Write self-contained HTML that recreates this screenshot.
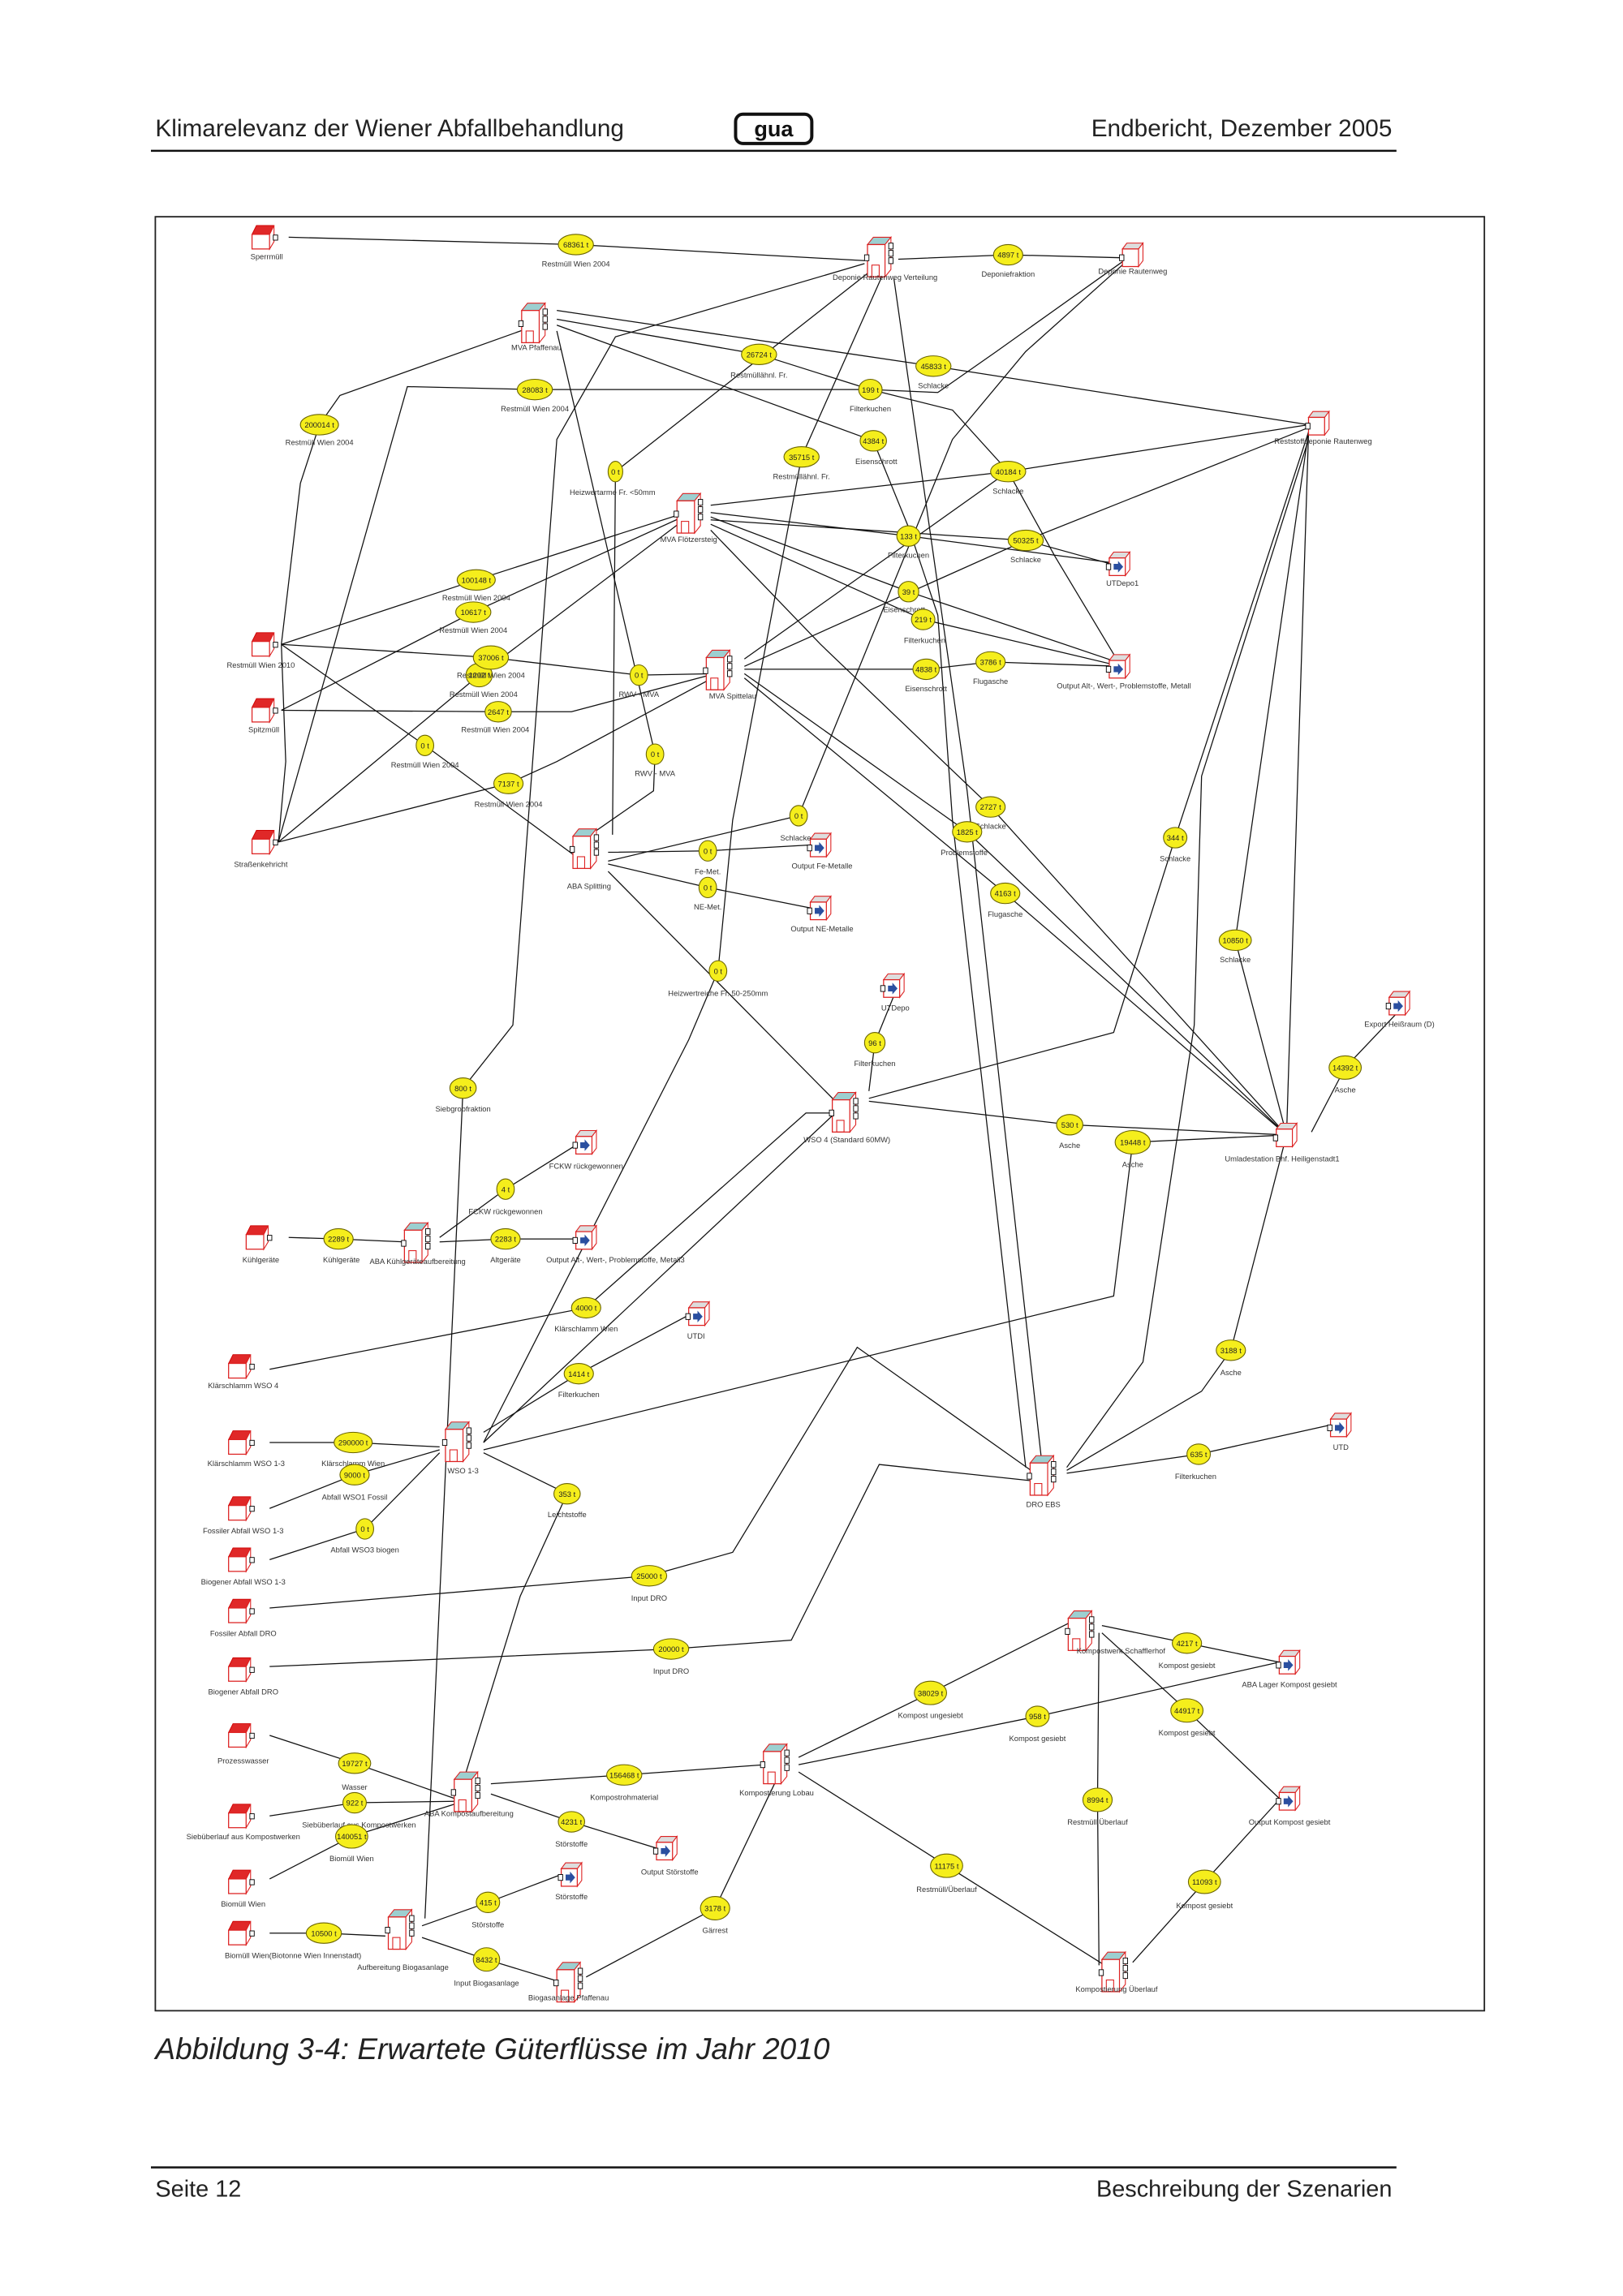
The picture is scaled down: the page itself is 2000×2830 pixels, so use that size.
<!DOCTYPE html>
<html><head><meta charset="utf-8"><style>
html,body{margin:0;padding:0;background:#fff;}
svg{display:block}
.t{font-family:"Liberation Sans",sans-serif;fill:#222}
.l{font-family:"Liberation Sans",sans-serif;font-size:5.2px;fill:#333;text-anchor:middle}
.v{font-family:"Liberation Sans",sans-serif;font-size:5.2px;fill:#222;text-anchor:middle}
.e{fill:#f5ee1c;stroke:#6a6400;stroke-width:.6}
.ln{fill:none;stroke:#111;stroke-width:.7}
</style></head><body>
<svg width="2000" height="2830" viewBox="0 0 1107.6 1567.8" preserveAspectRatio="none" xmlns="http://www.w3.org/2000/svg">
<defs>
<g id="src"><polygon points="0,6 3,0 15,0 12,6" fill="#e02828" stroke="#c00" stroke-width=".5"/><rect x="0" y="6" width="12" height="10" fill="#fff" stroke="#d22" stroke-width=".7"/><polygon points="12,6 15,0 15,11 12,16" fill="#fff" stroke="#d22" stroke-width=".6"/><rect x="14.5" y="6.5" width="3" height="3.5" fill="#fff" stroke="#000" stroke-width=".5"/></g>
<g id="proc"><polygon points="0,5 4,0 16,0 12,5" fill="#9ccfd0" stroke="#d22" stroke-width=".6"/><rect x="0" y="5" width="12" height="22" fill="#fff" stroke="#d22" stroke-width=".7"/><polygon points="12,5 16,0 16,22 12,27" fill="#fff" stroke="#d22" stroke-width=".6"/><rect x="3" y="19" width="5" height="8" fill="none" stroke="#d22" stroke-width=".6"/><rect x="-2" y="12" width="3" height="4" fill="#fff" stroke="#000" stroke-width=".5"/><rect x="14.5" y="4" width="3" height="4" fill="#fff" stroke="#000" stroke-width=".5"/><rect x="14.5" y="9" width="3" height="4" fill="#fff" stroke="#000" stroke-width=".5"/><rect x="14.5" y="14" width="3" height="4" fill="#fff" stroke="#000" stroke-width=".5"/></g>
<g id="sink"><polygon points="0,4 3,0 14,0 11,4" fill="#ddd" stroke="#d22" stroke-width=".6"/><rect x="0" y="4" width="11" height="12" fill="#fff" stroke="#d22" stroke-width=".7"/><polygon points="11,4 14,0 14,12 11,16" fill="#fff" stroke="#d22" stroke-width=".6"/><polygon points="3,8 6,8 6,6 9.5,10 6,14 6,12 3,12" fill="#2a4fa0"/><rect x="-2" y="8" width="3" height="4" fill="#fff" stroke="#000" stroke-width=".5"/></g>
<g id="sink2"><polygon points="0,4 3,0 14,0 11,4" fill="#ddd" stroke="#d22" stroke-width=".6"/><rect x="0" y="4" width="11" height="12" fill="#fff" stroke="#d22" stroke-width=".7"/><polygon points="11,4 14,0 14,12 11,16" fill="#fff" stroke="#d22" stroke-width=".6"/><rect x="-2" y="8" width="3" height="4" fill="#fff" stroke="#000" stroke-width=".5"/></g>
</defs>

<!-- header -->
<text class="t" x="106" y="93" font-size="16.5">Klimarelevanz der Wiener Abfallbehandlung</text>
<text class="t" x="950" y="93" font-size="16.5" text-anchor="end">Endbericht, Dezember 2005</text>
<rect x="502" y="78" width="52" height="20" rx="5" fill="#fff" stroke="#111" stroke-width="2.2"/>
<text x="528" y="93" font-family="Liberation Sans" font-weight="bold" font-size="15" text-anchor="middle" fill="#111">gua</text>
<line x1="103" y1="103" x2="953" y2="103" stroke="#111" stroke-width="1.4"/>

<!-- frame -->
<rect x="106" y="148" width="907" height="1225" fill="#fff" stroke="#222" stroke-width="1"/>

<!-- connectors -->
<g class="ln">
<polyline points="197,162 393,167 590,178"/>
<polyline points="613,177 688,174 765,176"/>
<polyline points="192,440 205,330 218,290 232,270 358,225"/>
<polyline points="190,575 278,264 365,266 594,266 640,268 680,240 767,178"/>
<polyline points="380,212 637,250 893,290"/>
<polyline points="380,218 518,242 594,266 650,280 688,322 720,380 765,455"/>
<polyline points="380,222 596,301 620,360 640,420 650,560 700,1002"/>
<polyline points="380,226 447,515 446,540 400,572"/>
<polyline points="604,184 547,312 500,560 490,663 470,710 330,985"/>
<polyline points="598,182 420,322 418,570"/>
<polyline points="610,190 660,540 712,1008"/>
<polyline points="590,180 420,230 380,300 350,700 316,743 290,1310"/>
<polyline points="192,440 325,396 468,350"/>
<polyline points="192,440 335,449 436,461 488,460"/>
<polyline points="192,440 290,509 400,590"/>
<polyline points="192,485 340,486 390,486 488,460"/>
<polyline points="192,485 323,418 468,352"/>
<polyline points="190,575 327,461 468,354"/>
<polyline points="190,575 347,535 380,520 488,462"/>
<polyline points="192,440 195,520 190,575"/>
<polyline points="485,345 688,322 893,290"/>
<polyline points="485,350 620,366 765,385"/>
<polyline points="485,355 700,369 765,387"/>
<polyline points="485,353 620,404 765,453"/>
<polyline points="485,358 630,423 765,455"/>
<polyline points="485,362 560,440 676,551 878,775"/>
<polyline points="508,450 688,322"/>
<polyline points="508,455 700,369 893,292"/>
<polyline points="508,457 632,457 676,452 765,455"/>
<polyline points="508,460 660,568 878,775"/>
<polyline points="508,463 686,610 878,775"/>
<polyline points="415,582 483,581 553,577"/>
<polyline points="415,590 483,606 553,620"/>
<polyline points="415,595 578,760"/>
<polyline points="415,588 545,557 650,300 700,240 767,180"/>
<polyline points="593,745 597,712 610,680"/>
<polyline points="593,752 730,768 878,775"/>
<polyline points="593,750 760,705 802,572 893,295"/>
<polyline points="878,775 843,642 893,295"/>
<polyline points="878,775 893,295"/>
<polyline points="878,775 773,780 760,885 330,990"/>
<polyline points="895,773 918,729 955,690"/>
<polyline points="878,775 840,922 820,950 728,1004"/>
<polyline points="728,1006 818,993 908,973"/>
<polyline points="728,1002 780,930 815,700 820,530 893,300"/>
<polyline points="197,845 231,846 276,848"/>
<polyline points="300,845 345,812 393,782"/>
<polyline points="300,848 345,846 393,846"/>
<polyline points="184,935 400,893 550,760 578,760"/>
<polyline points="330,978 395,938 470,898"/>
<polyline points="184,985 241,985 300,988"/>
<polyline points="184,1030 242,1007 300,990"/>
<polyline points="184,1065 249,1044 300,992"/>
<polyline points="330,985 570,760"/>
<polyline points="330,992 387,1020 355,1090 315,1220"/>
<polyline points="184,1098 443,1076 500,1060 585,920 712,1010"/>
<polyline points="184,1138 458,1126 540,1120 600,1000 712,1012"/>
<polyline points="184,1185 242,1204 310,1228"/>
<polyline points="184,1240 242,1231 310,1230"/>
<polyline points="184,1283 240,1254 310,1232"/>
<polyline points="335,1218 426,1212 522,1205"/>
<polyline points="335,1225 390,1244 448,1262"/>
<polyline points="545,1200 635,1156 730,1108"/>
<polyline points="545,1205 708,1172 873,1135"/>
<polyline points="545,1210 646,1274 754,1342"/>
<polyline points="752,1110 810,1122 873,1135"/>
<polyline points="752,1115 810,1168 873,1228"/>
<polyline points="750,1115 749,1229 750,1342"/>
<polyline points="872,1230 822,1285 773,1340"/>
<polyline points="184,1320 221,1320 263,1322"/>
<polyline points="288,1315 333,1299 383,1280"/>
<polyline points="288,1323 332,1338 378,1352"/>
<polyline points="400,1350 488,1303 530,1215"/>
</g>

<!-- sources -->
<use href="#src" x="172" y="154"/><text class="l" x="182" y="177">Sperrmüll</text>
<use href="#src" x="172" y="432"/><text class="l" x="178" y="456">Restmüll Wien 2010</text>
<use href="#src" x="172" y="477"/><text class="l" x="180" y="500">Spitzmüll</text>
<use href="#src" x="172" y="567"/><text class="l" x="178" y="592">Straßenkehricht</text>
<use href="#src" x="168" y="837"/><text class="l" x="178" y="862">Kühlgeräte</text>
<use href="#src" x="156" y="925"/><text class="l" x="166" y="948">Klärschlamm WSO 4</text>
<use href="#src" x="156" y="977"/><text class="l" x="168" y="1001">Klärschlamm WSO 1-3</text>
<use href="#src" x="156" y="1022"/><text class="l" x="166" y="1047">Fossiler Abfall WSO 1-3</text>
<use href="#src" x="156" y="1057"/><text class="l" x="166" y="1082">Biogener Abfall WSO 1-3</text>
<use href="#src" x="156" y="1092"/><text class="l" x="166" y="1117">Fossiler Abfall DRO</text>
<use href="#src" x="156" y="1132"/><text class="l" x="166" y="1157">Biogener Abfall DRO</text>
<use href="#src" x="156" y="1177"/><text class="l" x="166" y="1204">Prozesswasser</text>
<use href="#src" x="156" y="1232"/><text class="l" x="166" y="1256">Siebüberlauf aus Kompostwerken</text>
<use href="#src" x="156" y="1277"/><text class="l" x="166" y="1302">Biomüll Wien</text>
<use href="#src" x="156" y="1312"/><text class="l" x="200" y="1337">Biomüll Wien(Biotonne Wien Innenstadt)</text>

<!-- processes -->
<use href="#proc" x="592" y="162"/><text class="l" x="604" y="191">Deponie Rautenweg Verteilung</text>
<use href="#proc" x="356" y="207"/><text class="l" x="366" y="239">MVA Pfaffenau</text>
<use href="#proc" x="462" y="337"/><text class="l" x="470" y="370">MVA Flötzersteig</text>
<use href="#proc" x="482" y="444"/><text class="l" x="500" y="477">MVA Spittelau</text>
<use href="#proc" x="391" y="566"/><text class="l" x="402" y="607">ABA Splitting</text>
<use href="#proc" x="568" y="746"/><text class="l" x="578" y="780">WSO 4 (Standard 60MW)</text>
<use href="#proc" x="276" y="835"/><text class="l" x="285" y="863">ABA Kühlgeräteaufbereitung</text>
<use href="#proc" x="304" y="971"/><text class="l" x="316" y="1006">WSO 1-3</text>
<use href="#proc" x="703" y="994"/><text class="l" x="712" y="1029">DRO EBS</text>
<use href="#proc" x="729" y="1100"/><text class="l" x="765" y="1129">Kompostwerk Schafflerhof</text>
<use href="#proc" x="521" y="1191"/><text class="l" x="530" y="1226">Kompostierung Lobau</text>
<use href="#proc" x="310" y="1210"/><text class="l" x="320" y="1240">ABA Kompostaufbereitung</text>
<use href="#proc" x="265" y="1304"/><text class="l" x="275" y="1345">Aufbereitung Biogasanlage</text>
<use href="#proc" x="380" y="1340"/><text class="l" x="388" y="1366">Biogasanlage Pfaffenau</text>
<use href="#proc" x="752" y="1333"/><text class="l" x="762" y="1360">Kompostierung Überlauf</text>

<!-- sinks -->
<use href="#sink2" x="766" y="166"/><text class="l" x="773" y="187">Deponie Rautenweg</text>
<use href="#sink2" x="893" y="281"/><text class="l" x="903" y="303">Reststoffdeponie Rautenweg</text>
<use href="#sink" x="757" y="377"/><text class="l" x="766" y="400">UTDepo1</text>
<use href="#sink" x="757" y="447"/><text class="l" x="767" y="470">Output Alt-, Wert-, Problemstoffe, Metall</text>
<use href="#sink" x="553" y="569"/><text class="l" x="561" y="593">Output Fe-Metalle</text>
<use href="#sink" x="553" y="612"/><text class="l" x="561" y="636">Output NE-Metalle</text>
<use href="#sink" x="603" y="665"/><text class="l" x="611" y="690">UTDepo</text>
<use href="#sink" x="948" y="677"/><text class="l" x="955" y="701">Export Heißraum (D)</text>
<use href="#sink2" x="871" y="767"/><text class="l" x="875" y="793">Umladestation Bhf. Heiligenstadt1</text>
<use href="#sink" x="393" y="772"/><text class="l" x="400" y="798">FCKW rückgewonnen</text>
<use href="#sink" x="393" y="837"/><text class="l" x="420" y="862">Output Alt-, Wert-, Problemstoffe, Metall3</text>
<use href="#sink" x="470" y="889"/><text class="l" x="475" y="914">UTDI</text>
<use href="#sink" x="908" y="965"/><text class="l" x="915" y="990">UTD</text>
<use href="#sink" x="873" y="1127"/><text class="l" x="880" y="1152">ABA Lager Kompost gesiebt</text>
<use href="#sink" x="873" y="1220"/><text class="l" x="880" y="1246">Output Kompost gesiebt</text>
<use href="#sink" x="448" y="1254"/><text class="l" x="457" y="1280">Output Störstoffe</text>
<use href="#sink" x="383" y="1272"/><text class="l" x="390" y="1297">Störstoffe</text>

<!-- flows -->
<g>
<ellipse class="e" cx="393" cy="167" rx="12" ry="7"/><text class="v" x="393" y="169">68361 t</text><text class="l" x="393" y="182">Restmüll Wien 2004</text>
<ellipse class="e" cx="688" cy="174" rx="10" ry="7"/><text class="v" x="688" y="176">4897 t</text><text class="l" x="688" y="189">Deponiefraktion</text>
<ellipse class="e" cx="518" cy="242" rx="12" ry="7"/><text class="v" x="518" y="244">26724 t</text><text class="l" x="518" y="258">Restmüllähnl. Fr.</text>
<ellipse class="e" cx="637" cy="250" rx="12" ry="7"/><text class="v" x="637" y="252">45833 t</text><text class="l" x="637" y="265">Schlacke</text>
<ellipse class="e" cx="365" cy="266" rx="12" ry="7"/><text class="v" x="365" y="268">28083 t</text><text class="l" x="365" y="281">Restmüll Wien 2004</text>
<ellipse class="e" cx="594" cy="266" rx="8" ry="7"/><text class="v" x="594" y="268">199 t</text><text class="l" x="594" y="281">Filterkuchen</text>
<ellipse class="e" cx="218" cy="290" rx="13" ry="7"/><text class="v" x="218" y="292">200014 t</text><text class="l" x="218" y="304">Restmüll Wien 2004</text>
<ellipse class="e" cx="596" cy="301" rx="9" ry="7"/><text class="v" x="596" y="303">4384 t</text><text class="l" x="598" y="317">Eisenschrott</text>
<ellipse class="e" cx="547" cy="312" rx="12" ry="7"/><text class="v" x="547" y="314">35715 t</text><text class="l" x="547" y="327">Restmüllähnl. Fr.</text>
<ellipse class="e" cx="688" cy="322" rx="12" ry="7"/><text class="v" x="688" y="324">40184 t</text><text class="l" x="688" y="337">Schlacke</text>
<ellipse class="e" cx="420" cy="322" rx="5" ry="7"/><text class="v" x="420" y="324">0 t</text><text class="l" x="418" y="338">Heizwertarme Fr. &lt;50mm</text>
<ellipse class="e" cx="620" cy="366" rx="8" ry="7"/><text class="v" x="620" y="368">133 t</text><text class="l" x="620" y="381">Filterkuchen</text>
<ellipse class="e" cx="700" cy="369" rx="12" ry="7"/><text class="v" x="700" y="371">50325 t</text><text class="l" x="700" y="384">Schlacke</text>
<ellipse class="e" cx="325" cy="396" rx="13" ry="7"/><text class="v" x="325" y="398">100148 t</text><text class="l" x="325" y="410">Restmüll Wien 2004</text>
<ellipse class="e" cx="323" cy="418" rx="12" ry="7"/><text class="v" x="323" y="420">10617 t</text><text class="l" x="323" y="432">Restmüll Wien 2004</text>
<ellipse class="e" cx="620" cy="404" rx="7" ry="7"/><text class="v" x="620" y="406">39 t</text><text class="l" x="617" y="418">Eisenschrott</text>
<ellipse class="e" cx="630" cy="423" rx="8" ry="7"/><text class="v" x="630" y="425">219 t</text><text class="l" x="631" y="439">Filterkuchen</text>
<ellipse class="e" cx="327" cy="461" rx="9" ry="8"/><text class="v" x="327" y="463">1202 t</text>
<ellipse class="e" cx="335" cy="449" rx="12" ry="8"/><text class="v" x="335" y="451">37006 t</text><text class="l" x="335" y="463">Restmüll Wien 2004</text><text class="l" x="330" y="476">Restmüll Wien 2004</text>
<ellipse class="e" cx="436" cy="461" rx="6" ry="7"/><text class="v" x="436" y="463">0 t</text><text class="l" x="436" y="476">RWV - MVA</text>
<ellipse class="e" cx="340" cy="486" rx="9" ry="7"/><text class="v" x="340" y="488">2647 t</text><text class="l" x="338" y="500">Restmüll Wien 2004</text>
<ellipse class="e" cx="290" cy="509" rx="6" ry="7"/><text class="v" x="290" y="511">0 t</text><text class="l" x="290" y="524">Restmüll Wien 2004</text>
<ellipse class="e" cx="447" cy="515" rx="6" ry="7"/><text class="v" x="447" y="517">0 t</text><text class="l" x="447" y="530">RWV - MVA</text>
<ellipse class="e" cx="632" cy="457" rx="9" ry="7"/><text class="v" x="632" y="459">4838 t</text><text class="l" x="632" y="472">Eisenschrott</text>
<ellipse class="e" cx="676" cy="452" rx="10" ry="7"/><text class="v" x="676" y="454">3786 t</text><text class="l" x="676" y="467">Flugasche</text>
<ellipse class="e" cx="347" cy="535" rx="10" ry="7"/><text class="v" x="347" y="537">7137 t</text><text class="l" x="347" y="551">Restmüll Wien 2004</text>
<ellipse class="e" cx="545" cy="557" rx="6" ry="7"/><text class="v" x="545" y="559">0 t</text><text class="l" x="543" y="574">Schlacke</text>
<ellipse class="e" cx="676" cy="551" rx="10" ry="7"/><text class="v" x="676" y="553">2727 t</text><text class="l" x="676" y="566">Schlacke</text>
<ellipse class="e" cx="660" cy="568" rx="10" ry="7"/><text class="v" x="660" y="570">1825 t</text><text class="l" x="658" y="584">Problemstoffe</text>
<ellipse class="e" cx="483" cy="581" rx="6" ry="7"/><text class="v" x="483" y="583">0 t</text><text class="l" x="483" y="597">Fe-Met.</text>
<ellipse class="e" cx="483" cy="606" rx="6" ry="7"/><text class="v" x="483" y="608">0 t</text><text class="l" x="483" y="621">NE-Met.</text>
<ellipse class="e" cx="686" cy="610" rx="10" ry="7"/><text class="v" x="686" y="612">4163 t</text><text class="l" x="686" y="626">Flugasche</text>
<ellipse class="e" cx="802" cy="572" rx="8" ry="7"/><text class="v" x="802" y="574">344 t</text><text class="l" x="802" y="588">Schlacke</text>
<ellipse class="e" cx="843" cy="642" rx="11" ry="7"/><text class="v" x="843" y="644">10850 t</text><text class="l" x="843" y="657">Schlacke</text>
<ellipse class="e" cx="490" cy="663" rx="6" ry="7"/><text class="v" x="490" y="665">0 t</text><text class="l" x="490" y="680">Heizwertreiche Fr. 50-250mm</text>
<ellipse class="e" cx="597" cy="712" rx="7" ry="7"/><text class="v" x="597" y="714">96 t</text><text class="l" x="597" y="728">Filterkuchen</text>
<ellipse class="e" cx="918" cy="729" rx="11" ry="8"/><text class="v" x="918" y="731">14392 t</text><text class="l" x="918" y="746">Asche</text>
<ellipse class="e" cx="316" cy="743" rx="9" ry="7"/><text class="v" x="316" y="745">800 t</text><text class="l" x="316" y="759">Siebgrobfraktion</text>
<ellipse class="e" cx="730" cy="768" rx="9" ry="7"/><text class="v" x="730" y="770">530 t</text><text class="l" x="730" y="784">Asche</text>
<ellipse class="e" cx="773" cy="780" rx="12" ry="8"/><text class="v" x="773" y="782">19448 t</text><text class="l" x="773" y="797">Asche</text>
<ellipse class="e" cx="345" cy="812" rx="6" ry="7"/><text class="v" x="345" y="814">4 t</text><text class="l" x="345" y="829">FCKW rückgewonnen</text>
<ellipse class="e" cx="231" cy="846" rx="10" ry="7"/><text class="v" x="231" y="848">2289 t</text><text class="l" x="233" y="862">Kühlgeräte</text>
<ellipse class="e" cx="345" cy="846" rx="10" ry="7"/><text class="v" x="345" y="848">2283 t</text><text class="l" x="345" y="862">Altgeräte</text>
<ellipse class="e" cx="400" cy="893" rx="10" ry="7"/><text class="v" x="400" y="895">4000 t</text><text class="l" x="400" y="909">Klärschlamm Wien</text>
<ellipse class="e" cx="395" cy="938" rx="10" ry="7"/><text class="v" x="395" y="940">1414 t</text><text class="l" x="395" y="954">Filterkuchen</text>
<ellipse class="e" cx="840" cy="922" rx="10" ry="7"/><text class="v" x="840" y="924">3188 t</text><text class="l" x="840" y="939">Asche</text>
<ellipse class="e" cx="241" cy="985" rx="13" ry="7"/><text class="v" x="241" y="987">290000 t</text><text class="l" x="241" y="1001">Klärschlamm Wien</text>
<ellipse class="e" cx="242" cy="1007" rx="10" ry="7"/><text class="v" x="242" y="1009">9000 t</text><text class="l" x="242" y="1024">Abfall WSO1 Fossil</text>
<ellipse class="e" cx="249" cy="1044" rx="6" ry="7"/><text class="v" x="249" y="1046">0 t</text><text class="l" x="249" y="1060">Abfall WSO3 biogen</text>
<ellipse class="e" cx="387" cy="1020" rx="9" ry="7"/><text class="v" x="387" y="1022">353 t</text><text class="l" x="387" y="1036">Leichtstoffe</text>
<ellipse class="e" cx="818" cy="993" rx="8" ry="7"/><text class="v" x="818" y="995">635 t</text><text class="l" x="816" y="1010">Filterkuchen</text>
<ellipse class="e" cx="443" cy="1076" rx="12" ry="7"/><text class="v" x="443" y="1078">25000 t</text><text class="l" x="443" y="1093">Input DRO</text>
<ellipse class="e" cx="458" cy="1126" rx="12" ry="7"/><text class="v" x="458" y="1128">20000 t</text><text class="l" x="458" y="1143">Input DRO</text>
<ellipse class="e" cx="810" cy="1122" rx="10" ry="7"/><text class="v" x="810" y="1124">4217 t</text><text class="l" x="810" y="1139">Kompost gesiebt</text>
<ellipse class="e" cx="635" cy="1156" rx="11" ry="8"/><text class="v" x="635" y="1158">38029 t</text><text class="l" x="635" y="1173">Kompost ungesiebt</text>
<ellipse class="e" cx="708" cy="1172" rx="8" ry="7"/><text class="v" x="708" y="1174">958 t</text><text class="l" x="708" y="1189">Kompost gesiebt</text>
<ellipse class="e" cx="810" cy="1168" rx="11" ry="8"/><text class="v" x="810" y="1170">44917 t</text><text class="l" x="810" y="1185">Kompost gesiebt</text>
<ellipse class="e" cx="242" cy="1204" rx="11" ry="7"/><text class="v" x="242" y="1206">19727 t</text><text class="l" x="242" y="1222">Wasser</text>
<ellipse class="e" cx="242" cy="1231" rx="8" ry="7"/><text class="v" x="242" y="1233">922 t</text><text class="l" x="245" y="1248">Siebüberlauf aus Kompostwerken</text>
<ellipse class="e" cx="240" cy="1254" rx="11" ry="8"/><text class="v" x="240" y="1256">140051 t</text><text class="l" x="240" y="1271">Biomüll Wien</text>
<ellipse class="e" cx="426" cy="1212" rx="12" ry="7"/><text class="v" x="426" y="1214">156468 t</text><text class="l" x="426" y="1229">Kompostrohmaterial</text>
<ellipse class="e" cx="390" cy="1244" rx="9" ry="7"/><text class="v" x="390" y="1246">4231 t</text><text class="l" x="390" y="1261">Störstoffe</text>
<ellipse class="e" cx="749" cy="1229" rx="10" ry="8"/><text class="v" x="749" y="1231">8994 t</text><text class="l" x="749" y="1246">Restmüll Überlauf</text>
<ellipse class="e" cx="646" cy="1274" rx="11" ry="8"/><text class="v" x="646" y="1276">11175 t</text><text class="l" x="646" y="1292">Restmüll/Überlauf</text>
<ellipse class="e" cx="333" cy="1299" rx="8" ry="7"/><text class="v" x="333" y="1301">415 t</text><text class="l" x="333" y="1316">Störstoffe</text>
<ellipse class="e" cx="488" cy="1303" rx="10" ry="8"/><text class="v" x="488" y="1305">3178 t</text><text class="l" x="488" y="1320">Gärrest</text>
<ellipse class="e" cx="822" cy="1285" rx="11" ry="8"/><text class="v" x="822" y="1287">11093 t</text><text class="l" x="822" y="1303">Kompost gesiebt</text>
<ellipse class="e" cx="221" cy="1320" rx="12" ry="7"/><text class="v" x="221" y="1322">10500 t</text>
<ellipse class="e" cx="332" cy="1338" rx="9" ry="8"/><text class="v" x="332" y="1340">8432 t</text><text class="l" x="332" y="1356">Input Biogasanlage</text>
</g>

<!-- caption & footer -->
<text class="t" x="106" y="1406" font-size="20.5" font-style="italic">Abbildung 3-4:   Erwartete Güterflüsse im Jahr 2010</text>
<line x1="103" y1="1480" x2="953" y2="1480" stroke="#111" stroke-width="1.4"/>
<text class="t" x="106" y="1500" font-size="16">Seite 12</text>
<text class="t" x="950" y="1500" font-size="16" text-anchor="end">Beschreibung der Szenarien</text>
</svg>
</body></html>
